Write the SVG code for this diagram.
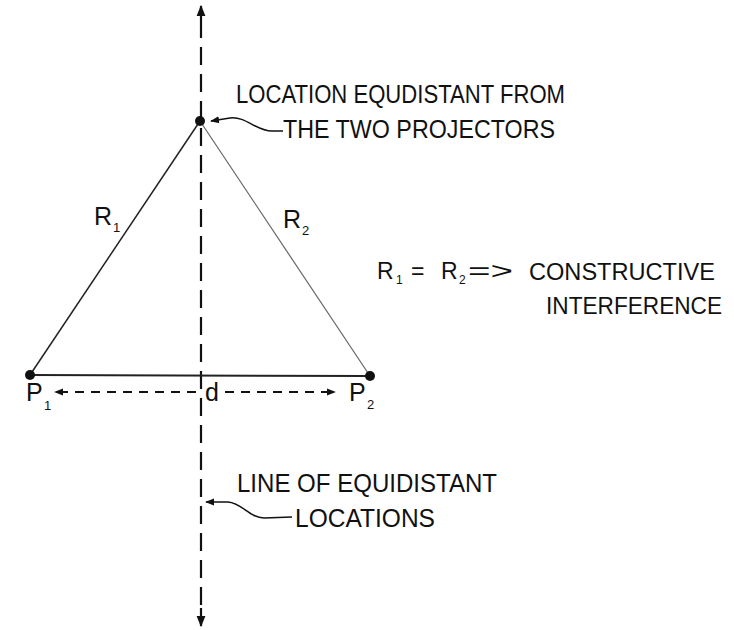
<svg xmlns="http://www.w3.org/2000/svg" width="734" height="630" viewBox="0 0 734 630">
<defs>
<marker id="ah" viewBox="0 0 10 10" refX="9" refY="5" markerWidth="11" markerHeight="11" markerUnits="userSpaceOnUse" orient="auto-start-reverse">
<path d="M0,1 L10,5 L0,9 Z" fill="#111"/>
</marker>
<marker id="ahs" viewBox="0 0 10 10" refX="9" refY="5" markerWidth="9" markerHeight="9" markerUnits="userSpaceOnUse" orient="auto">
<path d="M0,1 L10,5 L0,9 Z" fill="#111"/>
</marker>
<style>
text{font-family:"Liberation Sans","DejaVu Sans",sans-serif;fill:#111;}
.lbl{font-size:25px;}
.sub{font-size:13px;}
.eq{font-size:23px;}
.side{stroke:#222;stroke-width:1.5;fill:none;}
.lead{stroke:#111;stroke-width:1.5;fill:none;}
.hd{stroke:#111;stroke-width:2;stroke-dasharray:9 7;fill:none;}
</style>
</defs>
<rect width="734" height="630" fill="#fff"/>
<g id="connectors">
<path d="M201,6 L201,38" stroke="#111" stroke-width="2.2" fill="none" marker-start="url(#ah)"/>
<path d="M201,47 L201,608" stroke="#111" stroke-width="2.2" fill="none" stroke-dasharray="18 9"/>
<path d="M201,608 L201,626" stroke="#111" stroke-width="2.2" fill="none" marker-end="url(#ah)"/>
<line class="side" x1="30" y1="375" x2="200" y2="121"/>
<line class="side" x1="200" y1="121" x2="370" y2="376" style="stroke:#666;stroke-width:1.2"/>
<line class="side" x1="30" y1="375" x2="370" y2="376" style="stroke-width:2"/>
<line class="hd" x1="196" y1="392" x2="55" y2="392" marker-end="url(#ahs)"/>
<line class="hd" x1="225" y1="392" x2="335" y2="392" marker-end="url(#ahs)"/>
<path class="lead" d="M283,131 L272,131 C256,131 246,116 230,118 L211,121" marker-end="url(#ahs)"/>
<path class="lead" d="M292,517 L264,518 C250,518 242,503 228,502 L206,502" marker-end="url(#ahs)"/>
</g>
<g id="apex">
<circle cx="200" cy="121" r="5" fill="#111"/>
</g>
<g id="p1">
<circle cx="30" cy="375" r="5" fill="#111"/>
<text class="lbl" x="26" y="401">P</text>
<text class="sub" x="44" y="410">1</text>
</g>
<g id="p2">
<circle cx="370" cy="376" r="5" fill="#111"/>
<text class="lbl" x="349" y="401">P</text>
<text class="sub" x="367" y="409">2</text>
</g>
<g id="d-label">
<text class="lbl" x="205" y="401">d</text>
</g>
<g id="r1-label">
<text class="lbl" x="94" y="225">R</text>
<text class="sub" x="113" y="232">1</text>
</g>
<g id="r2-label">
<text class="lbl" x="283" y="228">R</text>
<text class="sub" x="302" y="235">2</text>
</g>
<g id="apex-note">
<text class="lbl" x="236" y="103" textLength="329" lengthAdjust="spacingAndGlyphs">LOCATION EQUDISTANT FROM</text>
<text class="lbl" x="283" y="138" textLength="272" lengthAdjust="spacingAndGlyphs">THE TWO PROJECTORS</text>
</g>
<g id="equation">
<text class="eq" x="377" y="279">R</text>
<text class="sub" x="396" y="284" style="font-size:12px">1</text>
<text class="eq" x="411" y="279">=</text>
<text class="eq" x="441" y="279">R</text>
<text class="sub" x="459" y="284" style="font-size:12px">2</text>
<text class="eq" x="468" y="279" textLength="45" lengthAdjust="spacingAndGlyphs">=&gt;</text>
<text class="eq" x="529" y="280" textLength="186" lengthAdjust="spacingAndGlyphs">CONSTRUCTIVE</text>
<text class="eq" x="546" y="314" textLength="176" lengthAdjust="spacingAndGlyphs">INTERFERENCE</text>
</g>
<g id="line-note">
<text class="lbl" x="237" y="492" textLength="260" lengthAdjust="spacingAndGlyphs">LINE OF EQUIDISTANT</text>
<text class="lbl" x="295" y="527" textLength="140" lengthAdjust="spacingAndGlyphs">LOCATIONS</text>
</g>
</svg>
